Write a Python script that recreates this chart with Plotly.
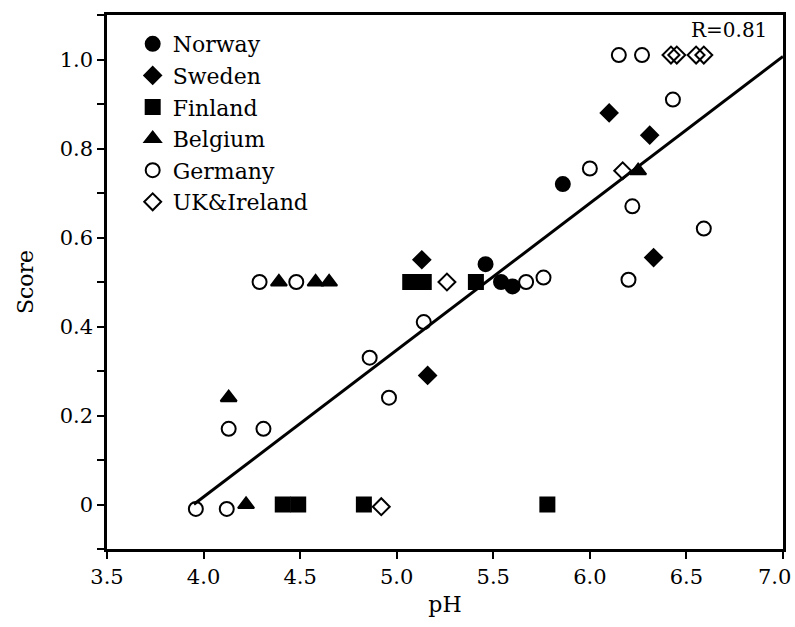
import plotly.graph_objects as go

# pH and score per country
norway_ph = [5.46, 5.54, 5.60, 5.86]
norway_score = [0.54, 0.50, 0.49, 0.72]

sweden_ph = [5.13, 5.16, 6.10, 6.31, 6.33]
sweden_score = [0.55, 0.29, 0.88, 0.83, 0.555]

finland_ph = [5.07, 5.14, 5.41, 4.41, 4.49, 4.83, 5.78]
finland_score = [0.50, 0.50, 0.50, 0.0, 0.0, 0.0, 0.0]

belgium_ph = [4.39, 4.58, 4.65, 4.13, 4.22, 6.25]
belgium_score = [0.50, 0.50, 0.50, 0.24, 0.0, 0.75]

germany_ph = [4.29, 4.48, 4.13, 4.31, 3.96, 4.12, 5.14, 4.86, 4.96, 5.67,
              5.76, 6.00, 6.15, 6.27, 6.43, 6.22, 6.59, 6.20]
germany_score = [0.50, 0.50, 0.17, 0.17, -0.01, -0.01, 0.41, 0.33, 0.24, 0.50,
                 0.51, 0.755, 1.01, 1.01, 0.91, 0.67, 0.62, 0.505]

uk_ph = [5.26, 4.92, 6.17, 6.42, 6.45, 6.55, 6.59]
uk_score = [0.50, -0.005, 0.75, 1.01, 1.01, 1.01, 1.01]

# regression line
fit_slope = 0.33
fit_intercept = -1.303
fit_x = [3.95, 7.0]
r_label = "R=0.81"

x_ticks = [3.5, 4.0, 4.5, 5.0, 5.5, 6.0, 6.5, 7.0]
x_tick_text = ["3.5", "4.0", "4.5", "5.0", "5.5", "6.0", "6.5", "7.0"]
y_ticks = [0, 0.2, 0.4, 0.6, 0.8, 1.0]
y_tick_text = ["0", "0.2", "0.4", "0.6", "0.8", "1.0"]
y_minor = [-0.1, 0.1, 0.3, 0.5, 0.7, 0.9, 1.1]

FONT = "DejaVu Serif"

series = [
    ("Norway", norway_ph, norway_score, "circle", 14),
    ("Sweden", sweden_ph, sweden_score, "diamond", 13),
    ("Finland", finland_ph, finland_score, "square", 14),
    ("Belgium", belgium_ph, belgium_score, "triangle-up", 14),
    ("Germany", germany_ph, germany_score, "circle-open", 14),
    ("UK&Ireland", uk_ph, uk_score, "diamond-open", 13),
]

fig = go.Figure()

fig.add_trace(go.Scatter(
    x=fit_x, y=[fit_slope * v + fit_intercept for v in fit_x],
    mode="lines", line=dict(color="black", width=3), showlegend=False,
    hoverinfo="skip",
))

for name, xs, ys, sym, size in series:
    fig.add_trace(go.Scatter(
        x=xs, y=ys, mode="markers", name=name,
        marker=dict(symbol=sym, size=size, color="black",
                    line=dict(color="black", width=2)),
    ))

fig.add_annotation(
    text=r_label, xref="paper", yref="paper", x=0.98, y=0.972,
    xanchor="right", yanchor="middle", showarrow=False,
    font=dict(family=FONT, size=20, color="black"),
)

# the last x label sits at the right edge of the page, so it is nudged
# inward and drawn as an annotation instead of a tick label
fig.add_annotation(
    text=x_tick_text[-1], xref="x", yref="paper", x=x_ticks[-1], y=0,
    xanchor="right", yanchor="middle", xshift=10, yshift=-28,
    showarrow=False, font=dict(family=FONT, size=21, color="black"),
)
axis_x_text = x_tick_text[:-1] + [""]

axis_common = dict(
    showline=True, linecolor="black", linewidth=2.5, mirror=True,
    ticks="outside", ticklen=7, tickwidth=2, tickcolor="black",
    showgrid=False, zeroline=False, automargin=False,
    tickfont=dict(family=FONT, size=21, color="black"),
)

fig.update_xaxes(
    range=[3.5, 7.0], tickvals=x_ticks, ticktext=axis_x_text,
    title=dict(text="pH", font=dict(family=FONT, size=22, color="black"), standoff=9),
    **axis_common,
)
fig.update_yaxes(
    range=[-0.1, 1.1], tickvals=y_ticks, ticktext=y_tick_text,
    minor=dict(tickvals=y_minor, ticks="outside", ticklen=7, tickwidth=2, tickcolor="black"),
    title=dict(text="Score", font=dict(family=FONT, size=22, color="black"), standoff=20),
    **axis_common,
)

fig.update_layout(
    width=795, height=627,
    margin=dict(l=107, r=12, t=15, b=78, autoexpand=False),
    paper_bgcolor="white", plot_bgcolor="white",
    font=dict(family=FONT, color="black"),
    legend=dict(
        x=0.038, y=0.985, xanchor="left", yanchor="top",
        bgcolor="rgba(0,0,0,0)", borderwidth=0,
        font=dict(family=FONT, size=22, color="black"),
        itemwidth=30,
    ),
)

fig.write_html("out.html")
